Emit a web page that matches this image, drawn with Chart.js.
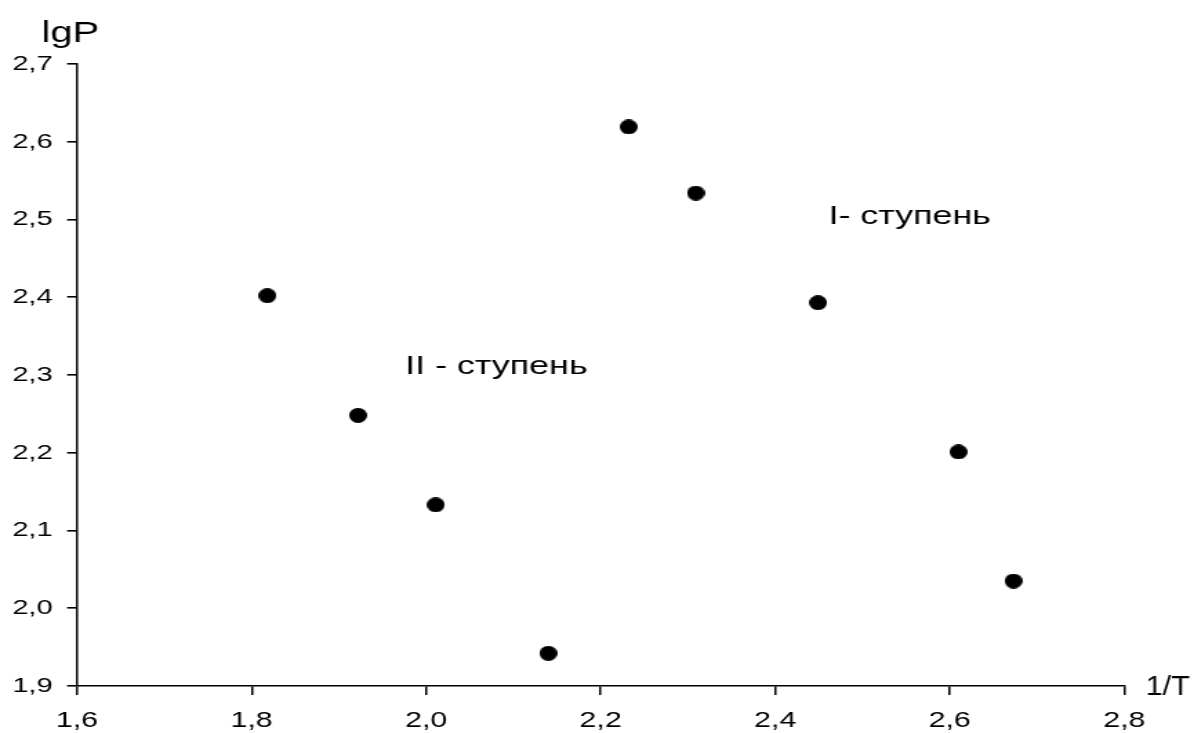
<!DOCTYPE html>
<html>
<head>
    <title>lgP - 1/T</title>
    <script src="https://cdn.jsdelivr.net/npm/chart.js"></script>
    <style type="text/css">
        body { margin: 0; background: #fff; }
        #myChart { display: block; }
    </style>
</head>
<body>
    <!-- the original picture is stretched horizontally, so the canvas is too -->
    <canvas id="myChart" width="865" height="733" style="width: 1194px; height: 733px;"></canvas>

    <script>
        const xValues = [1.818, 1.922, 2.011, 2.140, 2.232, 2.309, 2.449, 2.610, 2.673];
        const yValues = [2.402, 2.248, 2.133, 1.942, 2.619, 2.534, 2.393, 2.201, 2.035];
        const xTicks = [1.6, 1.8, 2.0, 2.2, 2.4, 2.6, 2.8];
        const yTicks = [1.9, 2.0, 2.1, 2.2, 2.3, 2.4, 2.5, 2.6, 2.7];
        const stepLabels = ['II - ступень', 'I- ступень'];
        const stepLabelX = [1.976, 2.461];
        const stepLabelY = [2.311, 2.503];
        const yTitle = 'lgP';
        const xTitle = '1/T';

        const FONT = '"Liberation Sans", Arial, sans-serif';
        const fmt = v => Number(v).toFixed(1).replace('.', ',');

        // black dot (narrower in canvas units, gets stretched by css)
        const dot = document.createElement('canvas');
        dot.width = 13; dot.height = 15;
        const dctx = dot.getContext('2d');
        dctx.fillStyle = '#000';
        dctx.beginPath();
        dctx.ellipse(6.5, 7.5, 6.5, 7.5, 0, 0, Math.PI * 2);
        dctx.fill();

        const textPlugin = {
            id: 'texts',
            afterDraw(chart) {
                const c = chart.ctx;
                const xs = chart.scales.x, ys = chart.scales.y;
                c.save();
                c.fillStyle = '#000';
                c.textAlign = 'left';
                c.textBaseline = 'middle';
                c.font = '26px ' + FONT;
                for (let i = 0; i < stepLabels.length; i++) {
                    c.fillText(stepLabels[i], xs.getPixelForValue(stepLabelX[i]), ys.getPixelForValue(stepLabelY[i]));
                }
                c.textBaseline = 'alphabetic';
                c.font = '29px ' + FONT;
                c.fillText(yTitle, 30, 42);
                // 1/T is narrower in the original
                c.font = '28px ' + FONT;
                c.translate(830, 695);
                c.scale(0.79, 1);
                c.fillText(xTitle, 0, 0);
                c.restore();
            }
        };

        var ctx = document.getElementById('myChart').getContext('2d');
        var myChart = new Chart(ctx, {
            type: 'scatter',
            data: {
                datasets: [{
                    data: xValues.map((x, i) => ({ x: x, y: yValues[i] })),
                    pointStyle: dot,
                    backgroundColor: '#000',
                    borderColor: '#000'
                }]
            },
            options: {
                responsive: false,
                animation: false,
                layout: { padding: { top: 64, right: 50.5, left: 0, bottom: 0 } },
                plugins: { legend: { display: false }, tooltip: { enabled: false } },
                scales: {
                    x: {
                        type: 'linear',
                        min: 1.6,
                        max: 2.8,
                        afterFit: s => { s.height = 47; },
                        afterBuildTicks: s => { s.ticks = xTicks.map(v => ({ value: v })); },
                        grid: { drawOnChartArea: false, tickLength: 9, color: '#000', lineWidth: 1.5 },
                        border: { color: '#000', width: 1.6 },
                        ticks: { color: '#000', padding: 13, font: { family: FONT, size: 22 }, callback: fmt, maxRotation: 0 }
                    },
                    y: {
                        type: 'linear',
                        min: 1.9,
                        max: 2.7,
                        afterFit: s => { s.width = 55.8; },
                        afterBuildTicks: s => { s.ticks = yTicks.map(v => ({ value: v })); },
                        grid: { drawOnChartArea: false, tickLength: 7.2, color: '#000', lineWidth: 1.6 },
                        border: { color: '#000', width: 1.5 },
                        ticks: { color: '#000', padding: 10.5, font: { family: FONT, size: 21 }, callback: fmt }
                    }
                }
            },
            plugins: [textPlugin]
        });
    </script>
</body>
</html>
